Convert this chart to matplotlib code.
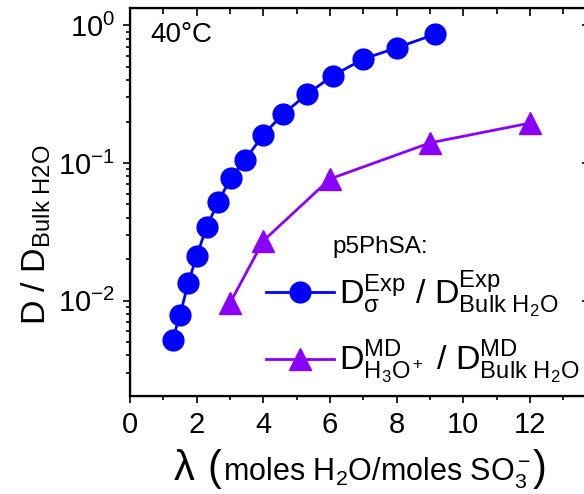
import numpy as np
import matplotlib
matplotlib.use('Agg')
import matplotlib.pyplot as plt
from matplotlib.offsetbox import TextArea, HPacker, AnchoredOffsetbox

plt.rcParams['font.family'] = ['Liberation Sans', 'DejaVu Sans']
plt.rcParams['mathtext.fontset'] = 'custom'
plt.rcParams['mathtext.rm'] = 'Liberation Sans'
plt.rcParams['mathtext.it'] = 'Liberation Sans:italic'
plt.rcParams['mathtext.sf'] = 'Liberation Sans'

# данные
lam_exp = [1.28, 1.5, 1.75, 2.0, 2.3, 2.65, 3.02, 3.45, 4.0, 4.6, 5.3, 6.08, 7.0, 8.0, 9.15]
d_exp = [0.0052, 0.0079, 0.0135, 0.0211, 0.0344, 0.0524, 0.0774, 0.105, 0.161, 0.227,
         0.315, 0.43, 0.569, 0.687, 0.861]
lam_md = [3, 4, 6, 9, 12]
d_md = [0.0096, 0.0272, 0.0766, 0.14, 0.195]

blue = '#0000ff'
purple = '#8a00ff'

fig = plt.figure(figsize=(5.84, 4.94), dpi=100)
ax = fig.add_axes([130 / 584, 98 / 494, 460 / 584, 388 / 494])

ax.plot(lam_exp, d_exp, '-o', color=blue, lw=2, ms=15,
        label=r'$\mathrm{D^{Exp}_{\sigma}\ /\ D^{Exp}_{Bulk\ H_2O}}$')
ax.plot(lam_md, d_md, '-^', color=purple, lw=2, ms=16,
        label=r'$\mathrm{D^{MD}_{H_3O^+}\ /\ D^{MD}_{Bulk\ H_2O}}$')

ax.set_yscale('log')
ax.set_xlim(0, 13.8)
ax.set_ylim(0.00203, 1.336)
ax.set_xticks(np.arange(0, 13, 2))
ax.set_xticks(np.arange(1, 14, 2), minor=True)
for s in ax.spines.values():
    s.set_linewidth(1.6)
ax.tick_params(which='major', direction='out', length=5, width=1.2, labelsize=21, pad=6)
ax.tick_params(which='minor', direction='out', length=3, width=1.2)

# верхняя и правая оси
axt = ax.twiny()
axt.set_xlim(ax.get_xlim())
axt.set_xticks(np.arange(0, 14, 2))
axt.set_xticks(np.arange(1, 14, 2), minor=True)
axt.tick_params(which='major', direction='in', length=6, width=1.2, labeltop=False)
axt.tick_params(which='minor', direction='in', length=4, width=1.2)

axr = ax.twinx()
axr.set_yscale('log')
axr.set_ylim(ax.get_ylim())
axr.tick_params(which='major', direction='in', length=6, width=1.2, labelright=False)
axr.tick_params(which='minor', right=False)

# подпись оси x: крупные λ и скобки
parts = [TextArea('λ ', textprops=dict(fontsize=30)),
         TextArea('(', textprops=dict(fontsize=30)),
         TextArea(r'moles H$_2$O/moles SO$_3^-$', textprops=dict(fontsize=22)),
         TextArea(')', textprops=dict(fontsize=30))]
xlab = HPacker(children=parts, align='baseline', pad=0, sep=1)
ax.add_artist(AnchoredOffsetbox(loc='center', child=xlab, pad=0, borderpad=0, frameon=False,
                                bbox_to_anchor=(360 / 584, 24 / 494),
                                bbox_transform=fig.transFigure))

ax.set_ylabel(r'$\mathrm{D\ /\ D_{Bulk\ H2O}}$', fontsize=24.5)
ax.yaxis.set_label_coords(-0.168, 0.415)

ax.text(0.045, 0.93, '40°C', transform=ax.transAxes, fontsize=20, va='center')
ax.text(0.44, 0.385, 'p5PhSA:', transform=ax.transAxes, fontsize=17.5, va='center')

ax.legend(loc='upper left', bbox_to_anchor=(0.295, 0.33), frameon=False, fontsize=24.5,
          handlelength=2.0, handletextpad=0.15, labelspacing=0.55, borderaxespad=0,
          borderpad=0)

fig.savefig('out.png', dpi=100)
